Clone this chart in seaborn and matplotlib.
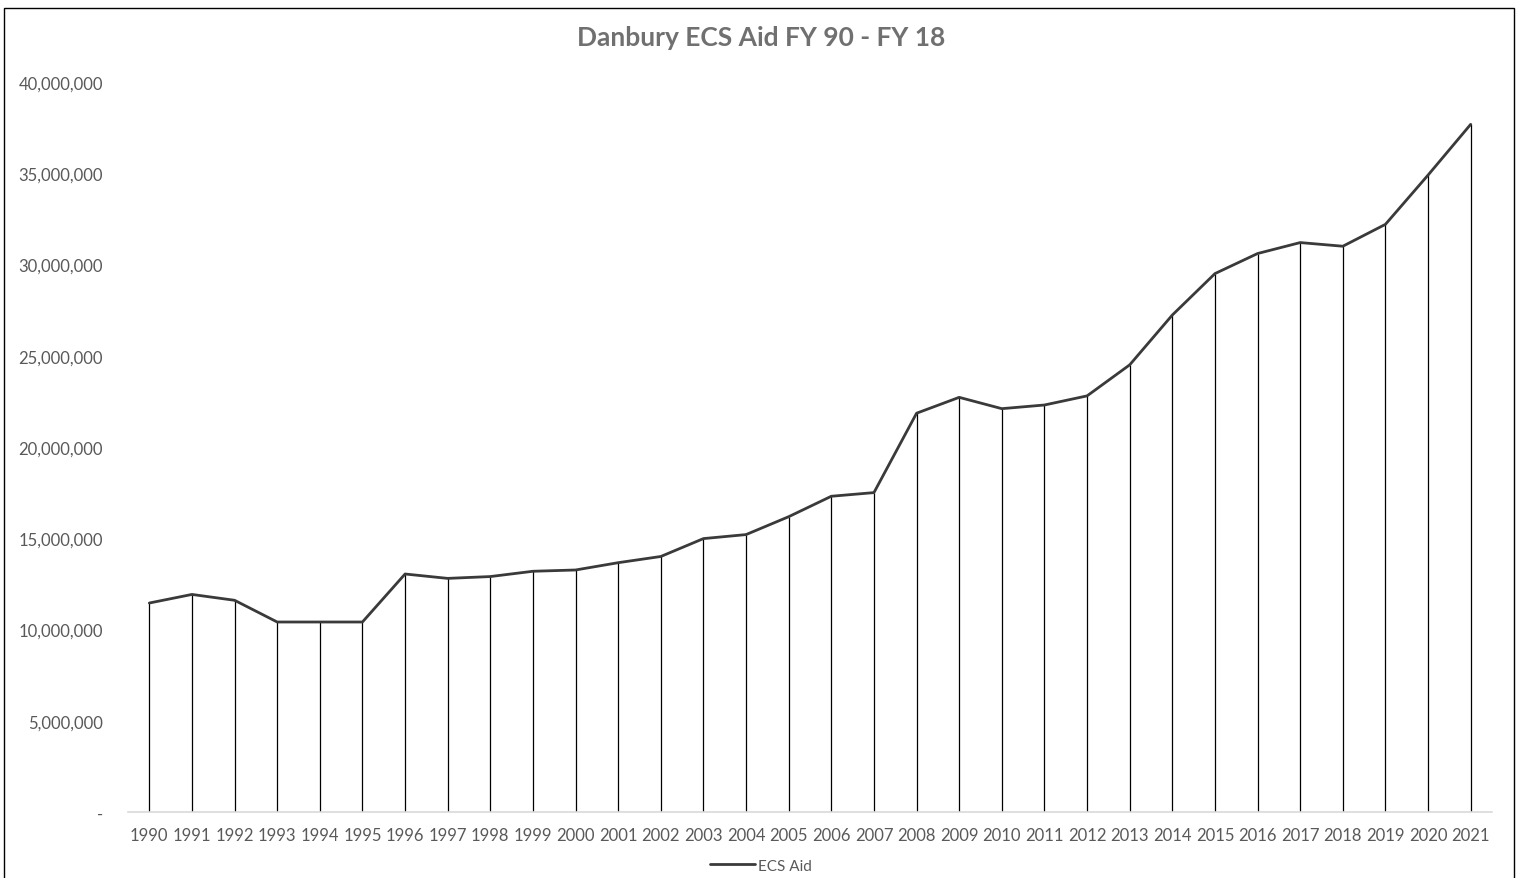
import numpy as np
import pandas as pd
import matplotlib
matplotlib.use("Agg")
import matplotlib.pyplot as plt
import seaborn as sns
from matplotlib.ticker import FuncFormatter, MultipleLocator

# ── Data ──────────────────────────────────────────────────────
years = list(range(1990, 2022))
ecs_aid = [
    11450000, 11920000, 11600000, 10410000, 10410000, 10410000,
    13040000, 12800000, 12900000, 13190000, 13260000, 13660000,
    14000000, 14980000, 15200000, 16180000, 17300000, 17500000,
    21850000, 22720000, 22100000, 22300000, 22800000, 24500000,
    27230000, 29500000, 30600000, 31200000, 31000000, 32200000,
    34900000, 37680000,
]
series_name = "ECS Aid"
title = "Danbury ECS Aid FY 90 - FY 18"

df = pd.DataFrame({"Year": years, "Aid": ecs_aid})

# ── Style ─────────────────────────────────────────────────────
sns.set_theme(style="white")
plt.rcParams["font.family"] = ["Lato", "DejaVu Sans"]
text_grey = "#595959"

fig = plt.figure(figsize=(15.22, 8.79), dpi=100)
ax = fig.add_axes([0.0841, 0.0751, 0.8962, 0.8305])

# drop lines from each point to the axis
ax.vlines(df["Year"], 0, df["Aid"], color="black", linewidth=0.9, zorder=1)
sns.lineplot(data=df, x="Year", y="Aid", ax=ax, color="#3a3a3a",
             linewidth=2.0, label=series_name, zorder=2)

ax.set_xlim(years[0] - 0.5, years[-1] + 0.5)
ax.set_ylim(0, 40000000)
ax.set_xticks(years)
ax.set_xticklabels([str(y) for y in years])
ax.yaxis.set_major_locator(MultipleLocator(5000000))
ax.yaxis.set_major_formatter(FuncFormatter(lambda v, p: "-" if v == 0 else f"{v:,.0f}"))
ax.set_xlabel("")
ax.set_ylabel("")

for s in ["top", "right", "left"]:
    ax.spines[s].set_visible(False)
ax.spines["bottom"].set_color("#d9d9d9")
ax.spines["bottom"].set_linewidth(1.2)
ax.tick_params(axis="y", length=0, pad=18, labelsize=12, labelcolor=text_grey)
ax.tick_params(axis="x", length=0, pad=11, labelsize=12, labelcolor=text_grey)
ax.grid(False)

fig.text(0.5, 0.957, title, ha="center", va="center", fontsize=19,
         fontweight="bold", color="#707070")

ax.get_legend().remove()
handles, labels = ax.get_legend_handles_labels()
leg = fig.legend(handles, labels, loc="center", bbox_to_anchor=(0.5, 0.014),
                 frameon=False, fontsize=11, handlelength=2.9, handletextpad=0.2)
for t in leg.get_texts():
    t.set_color(text_grey)

# chart border
fig.patches.append(plt.Rectangle((4 / 1522, -0.02), 1510 / 1522, 1 - 9 / 879 + 0.02,
                                 transform=fig.transFigure, fill=False,
                                 edgecolor="black", linewidth=1.0))

fig.savefig("out.png", dpi=100)
